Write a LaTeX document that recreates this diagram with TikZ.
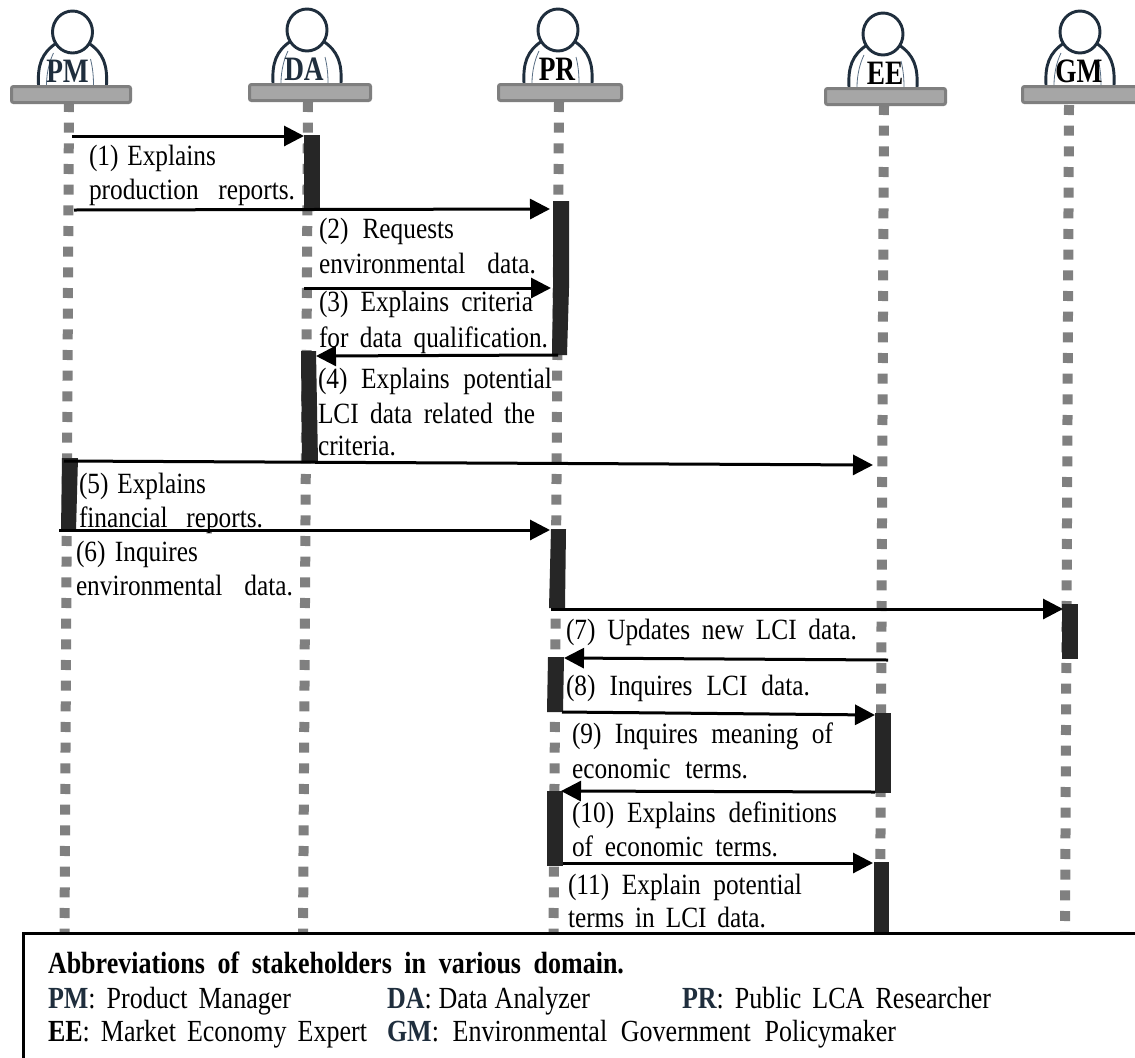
\documentclass[tikz,border=0pt]{standalone}
\usepackage{graphicx}
\usepackage{fontspec}
\usetikzlibrary{arrows.meta}
\setmainfont{Liberation Serif}
\definecolor{navy}{HTML}{1F2E3D}
\definecolor{thinline}{HTML}{5A6F85}
\definecolor{lifegray}{HTML}{808080}
\definecolor{tablefill}{HTML}{A6A6A6}
\definecolor{tableedge}{HTML}{7F7F7F}
\definecolor{barfill}{HTML}{262626}
\tikzset{
  lifeline/.style={draw=lifegray,line width=7.5pt,dash pattern=on 7.5pt off 8pt},
  msg/.style={draw=black,line width=2.25pt,-{Triangle[length=15pt,width=15pt]}},
  activation/.style={fill=barfill,draw=none},
  tablebox/.style={draw=tableedge,fill=tablefill,line width=2.25pt,rounded corners=1.5pt,inner sep=0pt,anchor=north west},
  bodyline/.style={anchor=base west,inner sep=0pt,outer sep=0pt,font=\fontsize{19}{21}\selectfont},
  legendline/.style={anchor=base west,inner sep=0pt,outer sep=0pt,font=\fontsize{19.5}{22}\selectfont},
  actorlabel/.style={anchor=base,inner sep=0pt,font=\fontsize{20.5}{22}\selectfont\bfseries},
  legendbox/.style={draw=black,fill=white,line width=2.25pt,inner sep=0pt,anchor=north west}
}
% name, x start, baseline, x end, text
\newcommand{\tline}[5]{%
  \pgfmathsetlengthmacro{\tlw}{(#4-#2)*0.75pt}%
  \node[bodyline] (#1) at (#2,#3) {\scalebox{1}[1.16]{\makebox[\tlw][s]{#5}}};}
\newcommand{\lline}[5]{%
  \pgfmathsetlengthmacro{\tlw}{(#4-#2)*0.75pt}%
  \node[legendline] (#1) at (#2,#3) {\scalebox{1}[1.18]{\makebox[\tlw][s]{#5}}};}
% name, head x, table x1, table x2, table top, label x, label, label colour
\newcommand{\actor}[8]{%
  \begin{scope}[shift={(#2,#5)}]
    \draw[navy,line width=2.2pt] (-34,0) .. controls (-35,-20) and (-31,-32) .. (-16,-42);
    \draw[navy,line width=2.2pt] (34,0) .. controls (35,-20) and (31,-32) .. (16,-42);
    \draw[thinline,line width=.6pt] (-26,0) .. controls (-26,-12) and (-23,-24) .. (-19,-32);
    \draw[thinline,line width=.6pt] (21,0) .. controls (21,-10) and (20,-18) .. (18,-26);
    \draw[navy,line width=2.2pt,fill=white] (0,-53) ellipse [x radius=20,y radius=21];
  \end{scope}
  \node[tablebox,minimum width={(#4-#3)*0.75pt},minimum height=12pt] (t#1) at (#3,#5) {};
  \node[actorlabel,text=#8] (l#1) at (#6,#5-3) {\scalebox{1}[1.25]{#7}};}
\newcommand{\msgline}[3]{%
  \coordinate (#1a) at (#2); \coordinate (#1b) at (#3);
  \draw[msg] (#1a) -- (#1b);}
\begin{document}
\begin{tikzpicture}[x=0.75pt,y=-0.75pt]
\useasboundingbox (0,0) rectangle (1135,1057);
\fill[white] (0,0) rectangle (1135,1057);
% lifelines
\coordinate (lPMt) at (69,102);   \coordinate (lPMb) at (64.5,936);
\coordinate (lDAt) at (308,102);  \coordinate (lDAb) at (303,936);
\coordinate (lPRt) at (559,102);  \coordinate (lPRb) at (553.5,936);
\coordinate (lEEt) at (884,105);  \coordinate (lEEb) at (880,936);
\coordinate (lGMt) at (1069,105); \coordinate (lGMb) at (1065,936);
\foreach \n in {PM,DA,PR,EE,GM} \draw[lifeline] (l\n t) -- (l\n b);
% actors
\actor{PM}{72.5}{10}{129}{85}{67.5}{PM}{navy}
\actor{DA}{307}{248}{369}{83}{304}{DA}{navy}
\actor{PR}{558}{497}{620}{83}{557}{PR}{black}
\actor{EE}{883}{824}{944}{87}{885}{EE}{black}
\actor{GM}{1080}{1021}{1142}{85}{1079}{GM}{black}
% activation bars
\fill[activation] (304,135) rectangle (320,208);
\fill[activation] (553,201) -- (569,201) -- (569,288) -- (567,355) -- (552,355) -- (553,288) -- cycle;
\fill[activation] (301,351) -- (316,351) -- (318,462) -- (302,462) -- cycle;
\fill[activation] (62,458) -- (78,458) -- (76,531) -- (61,531) -- cycle;
\fill[activation] (551,529) -- (566,529) -- (565,608) -- (549,608) -- cycle;
\fill[activation] (1062,604) rectangle (1078,659);
\fill[activation] (548,657) -- (564,657) -- (563,712) -- (547,712) -- cycle;
\fill[activation] (875,713) rectangle (891,793);
\fill[activation] (547,791) rectangle (563,866);
\fill[activation] (874,862) rectangle (889,936);
% messages
\msgline{m1}{72,136}{304,136}
\msgline{m2}{74,210}{550,209}
\msgline{m3}{304,288}{551,288}
\msgline{m4}{558,355}{316,356}
\msgline{m5}{64,461}{873,465}
\msgline{m6}{59,530}{550,530}
\msgline{m7}{551,609}{1063,609}
\msgline{m8}{888,660}{564,658}
\msgline{m9}{562,712}{875,715}
\msgline{m10}{875,792}{561,791}
\msgline{m11}{563,863}{873,863}
% message labels
\tline{a1}{89}{165}{216}{(1) Explains}
\tline{a2}{89}{199}{295}{production reports.}
\tline{b1}{319}{238}{454}{(2) Requests}
\tline{b2}{319}{273}{536}{environmental data.}
\tline{c1}{319}{311}{533}{(3) Explains criteria}
\tline{c2}{319}{347}{548}{for data qualification.}
\tline{d1}{318}{388}{552}{(4) Explains potential}
\tline{d2}{318}{423}{535}{LCI data related the}
\tline{d3}{318}{455}{394}{criteria.}
\tline{e1}{79}{493}{206}{(5) Explains}
\tline{e2}{79}{527}{263}{financial reports.}
\tline{f1}{76}{561}{198}{(6) Inquires}
\tline{f2}{76}{595}{293}{environmental data.}
\tline{g1}{566}{639}{857}{(7) Updates new LCI data.}
\tline{h1}{566}{695}{810}{(8) Inquires LCI data.}
\tline{i1}{572}{743}{833}{(9) Inquires meaning of}
\tline{i2}{572}{778}{748}{economic terms.}
\tline{j1}{572}{822}{837}{(10) Explains definitions}
\tline{j2}{572}{856}{778}{of economic terms.}
\tline{k1}{568}{894}{802}{(11) Explain potential}
\tline{k2}{568}{927}{766}{terms in LCI data.}
% legend
\node[legendbox,minimum width={1130*0.75pt},minimum height={140*0.75pt}] (legend) at (22,932) {};
\lline{n0}{48}{973}{624}{\bfseries Abbreviations of stakeholders in various domain.}
\lline{n1}{48}{1008}{291}{\textbf{\textcolor{navy}{PM}}: Product Manager}
\lline{n2}{387}{1008}{590}{\textbf{\textcolor{navy}{DA}}: Data Analyzer}
\lline{n3}{682}{1008}{991}{\textbf{\textcolor{navy}{PR}}: Public LCA Researcher}
\lline{n4}{48}{1041}{367}{\textbf{EE}: Market Economy Expert}
\lline{n5}{387}{1041}{896}{\textbf{\textcolor{navy}{GM}}: Environmental Government Policymaker}
\end{tikzpicture}
\end{document}
